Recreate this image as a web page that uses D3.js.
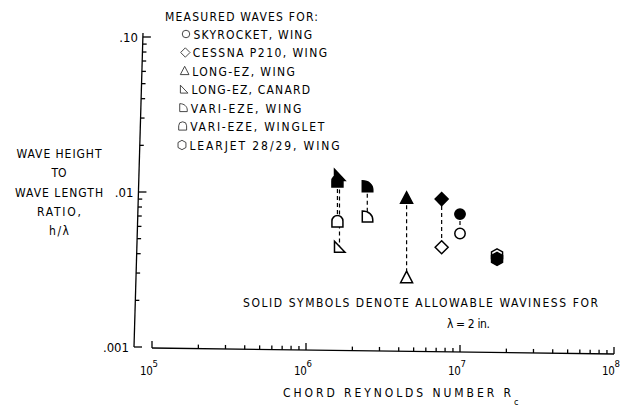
<!DOCTYPE html>
<html><head><meta charset="utf-8">
<script src="https://cdn.jsdelivr.net/npm/d3@7"></script>
<style>
body{margin:0;background:#fff;}
svg{display:block;background:#fff;}
text{font-family:"DejaVu Sans Condensed","Liberation Sans Narrow","DejaVu Sans",sans-serif;fill:#000;}
</style></head><body>
<svg id="c" width="623" height="411"></svg>
<script>
// ---- data ----
const aircraft = ["SKYROCKET, WING","CESSNA P210, WING","LONG-EZ, WING","LONG-EZ, CANARD","VARI-EZE, WING","VARI-EZE, WINGLET","LEARJET 28/29, WING"];
const symbolTypes = ["circle","diamond","triangle","rtriangle","dwing","winglet","hex"];
const reynoldsNumber = [1.0e7, 7.6e6, 4.5e6, 1.65e6, 2.5e6, 1.6e6, 1.74e7];
const measuredRatio = [0.0054, 0.0044, 0.0028, 0.0044, 0.0069, 0.0064, 0.0039];
const allowableRatio = [0.0072, 0.0090, 0.0091, 0.0128, 0.0108, 0.0116, 0.0037];
const xTickValues = [1e5, 1e6, 1e7, 1e8];
const xTickExponents = ["5","6","7","8"];
const yTickValues = [0.001, 0.01, 0.1];
const yTickLabels = [".001", ".01", ".10"];
const yTitleLines = ["WAVE HEIGHT","TO","WAVE LENGTH","RATIO,","h/\u03bb"];
const legendTitle = "MEASURED WAVES FOR:";
const noteLines = ["SOLID SYMBOLS DENOTE ALLOWABLE WAVINESS FOR", "\u03bb = 2 in."];
const xTitle = "CHORD REYNOLDS NUMBER R";
const xTitleSub = "c";

// ---- scales ----
const x = d3.scaleLog().domain([1e5, 1e8]).range([152, 614]);
const y = d3.scaleLog().domain([0.001, 0.1]).range([347, 37]);
const axX = yy => 143 - 9 * (yy - 33) / 314;   // slight scan tilt of y axis
const axY = xx => 348 + 6 * (xx - 152) / 462;  // slight tilt of x axis

const svg = d3.select("#c");

// ---- y axis ----
const gy = svg.append("g").attr("stroke", "#000").attr("stroke-width", 1.3);
gy.append("line").attr("x1", axX(33)).attr("y1", 33).attr("x2", axX(347)).attr("y2", 347);
const yTicks = [];
yTickValues.slice(0, 2).forEach(d => { for (let m = 1; m <= 9; m++) yTicks.push({v: d * m, major: m === 1}); });
yTicks.push({v: 0.1, major: true});
gy.selectAll("line.t").data(yTicks).join("line").attr("class", "t")
  .attr("x1", d => axX(y(d.v))).attr("x2", d => axX(y(d.v)) + (d.major ? 8 : 4))
  .attr("y1", d => y(d.v)).attr("y2", d => y(d.v));
svg.selectAll("text.yt").data(yTickValues).join("text").attr("class", "yt")
  .attr("x", d => axX(y(d)) - 5).attr("y", d => y(d) + 5)
  .attr("text-anchor", "end").attr("font-size", 13)
  .text((d, i) => yTickLabels[i]);

// ---- x axis ----
const gx = svg.append("g").attr("stroke", "#000").attr("stroke-width", 1.3);
gx.append("line").attr("x1", 152).attr("y1", axY(152)).attr("x2", 614).attr("y2", axY(614));
const xTicks = [];
xTickValues.slice(0, 3).forEach(d => { for (let m = 1; m <= 9; m++) xTicks.push({v: d * m, major: m === 1}); });
xTicks.push({v: 1e8, major: true});
gx.selectAll("line.t").data(xTicks).join("line").attr("class", "t")
  .attr("x1", d => x(d.v)).attr("x2", d => x(d.v))
  .attr("y1", d => axY(x(d.v))).attr("y2", d => axY(x(d.v)) - (d.major ? 7 : 4));
const xl = svg.selectAll("text.xt").data(xTickValues).join("text").attr("class", "xt")
  .attr("x", d => x(d) - 12).attr("y", 375).attr("font-size", 11.5).attr("letter-spacing", -0.3);
xl.append("tspan").text("10");
xl.append("tspan").attr("dy", -8).attr("font-size", 9.5).text((d, i) => xTickExponents[i]);

// ---- axis titles ----
const yTitleWidths = [85, 15, 88, 44, 20];
svg.selectAll("text.ytl").data(yTitleLines).join("text").attr("class", "ytl")
  .attr("x", 59).attr("y", (d, i) => [158, 177, 197, 216, 235][i])
  .attr("text-anchor", "middle").attr("font-size", 12)
  .attr("textLength", (d, i) => yTitleWidths[i]).attr("lengthAdjust", "spacing")
  .text(d => d);
svg.append("text").attr("x", 283).attr("y", 397).attr("font-size", 12)
  .attr("textLength", 228).attr("lengthAdjust", "spacing").text(xTitle);
svg.append("text").attr("x", 514).attr("y", 405).attr("font-size", 9).text(xTitleSub);

// ---- symbols ----
function symbolPath(type, k) {
  const s = v => (v * k).toFixed(2);
  switch (type) {
    case "circle": return `M${s(-5.2)},0A${s(5.2)},${s(5.2)} 0 1 0 ${s(5.2)},0A${s(5.2)},${s(5.2)} 0 1 0 ${s(-5.2)},0Z`;
    case "diamond": return `M0,${s(-6.5)}L${s(6.5)},0L0,${s(6.5)}L${s(-6.5)},0Z`;
    case "triangle": return `M0,${s(-6.5)}L${s(6)},${s(5)}L${s(-6)},${s(5)}Z`;
    case "rtriangle": return `M${s(-5)},${s(-6)}L${s(5.5)},${s(5)}L${s(-5)},${s(5)}Z`;
    case "dwing": return `M${s(-5)},${s(-6)}C${s(1.5)},${s(-6)} ${s(5.5)},${s(-2)} ${s(5.5)},${s(3)}L${s(5.5)},${s(5)}L${s(-5)},${s(5)}Z`;
    case "winglet": return `M${s(-5.5)},${s(5)}L${s(-5.5)},${s(-1)}A${s(5.5)},${s(5.5)} 0 0 1 ${s(5.5)},${s(-1)}L${s(5.5)},${s(5)}Z`;
    case "hex": return `M0,${s(-6.5)}L${s(5.5)},${s(-3.5)}L${s(5.5)},${s(3.5)}L0,${s(6.5)}L${s(-5.5)},${s(3.5)}L${s(-5.5)},${s(-3.5)}Z`;
  }
}

const idx = aircraft.map((d, i) => i);
// dashed connectors
svg.append("g").selectAll("line").data(idx).join("line")
  .attr("x1", i => x(reynoldsNumber[i])).attr("x2", i => x(reynoldsNumber[i]))
  .attr("y1", i => y(allowableRatio[i])).attr("y2", i => y(measuredRatio[i]))
  .attr("stroke", "#000").attr("stroke-width", 1.2).attr("stroke-dasharray", "4,3");
// open symbols: measured
svg.append("g").selectAll("path").data(idx).join("path")
  .attr("transform", i => `translate(${x(reynoldsNumber[i])},${y(measuredRatio[i])})`)
  .attr("d", i => symbolPath(symbolTypes[i], 1))
  .attr("fill", "#fff").attr("stroke", "#000").attr("stroke-width", 1.5);
// solid symbols: allowable
svg.append("g").selectAll("path").data(idx).join("path")
  .attr("transform", i => `translate(${x(reynoldsNumber[i])},${y(allowableRatio[i])})`)
  .attr("d", i => symbolPath(symbolTypes[i], 1))
  .attr("fill", "#000").attr("stroke", "#000").attr("stroke-width", 1.5);

// ---- legend ----
svg.append("text").attr("x", 165).attr("y", 21).attr("font-size", 12)
  .attr("textLength", 153).attr("lengthAdjust", "spacing").text(legendTitle);
const lg = svg.append("g").selectAll("g").data(idx).join("g")
  .attr("transform", i => `translate(${186 - 0.67 * i},${34 + 18.5 * i})`);
lg.append("path").attr("d", i => symbolPath(symbolTypes[i], 0.72))
  .attr("fill", "none").attr("stroke", "#333").attr("stroke-width", 0.9);
lg.append("text").attr("x", 7.5).attr("y", 4.5).attr("font-size", 12)
  .attr("textLength", i => aircraft[i].length * 7.9).attr("lengthAdjust", "spacing")
  .text(i => aircraft[i]);

// ---- note ----
svg.append("text").attr("x", 243).attr("y", 307).attr("font-size", 12)
  .attr("textLength", 355).attr("lengthAdjust", "spacing").text(noteLines[0]);
svg.append("text").attr("x", 447).attr("y", 328).attr("font-size", 12)
  .attr("textLength", 43).attr("lengthAdjust", "spacing").text(noteLines[1]);
</script>
</body></html>
